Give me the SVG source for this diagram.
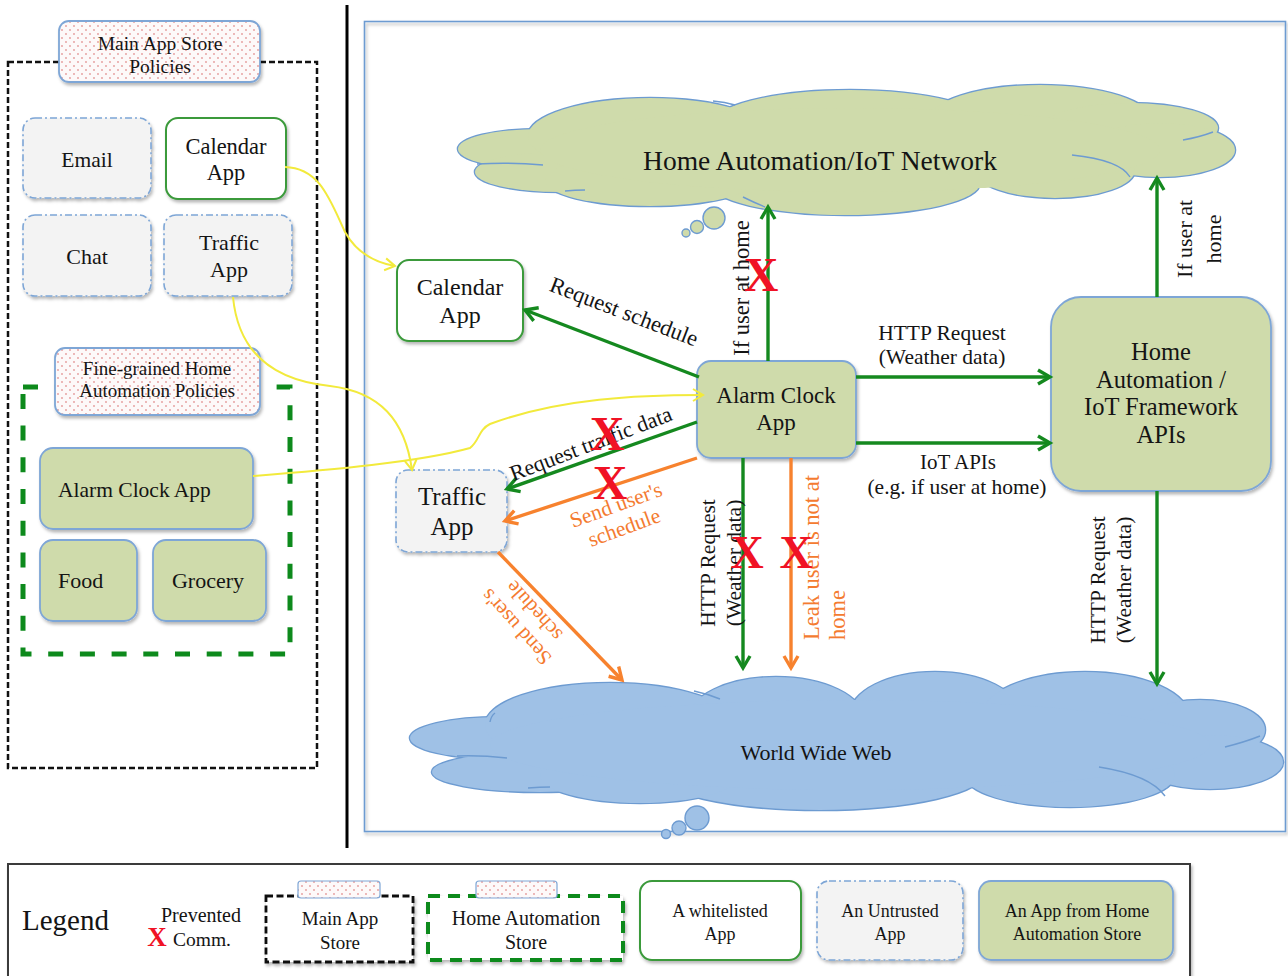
<svg xmlns="http://www.w3.org/2000/svg" width="1288" height="976" viewBox="0 0 1288 976">
<defs>
<style>
.t{font-family:"Liberation Serif","Times New Roman",serif;fill:#141414}
.c{text-anchor:middle}
.or{fill:#f47b30}
.x{font-family:"Liberation Serif","Times New Roman",serif;font-weight:bold;fill:#f01225;text-anchor:middle}
.wl{fill:#fff;stroke:#3b9a3b;stroke-width:2}
.ut{fill:#f3f3f3;stroke:#7ea6d6;stroke-width:1.6;stroke-dasharray:7 3 2 3}
.ha{fill:#cfdbab;stroke:#7ea6d6;stroke-width:1.8}
.pol{fill:url(#dots);stroke:#7ea6d6;stroke-width:1.8}
.ga{fill:none;stroke:#15891f;stroke-width:3.4;marker-end:url(#mg)}
.oa{fill:none;stroke:#f7822e;stroke-width:3.4;marker-end:url(#mo)}
.ya{fill:none;stroke:#f2ea3c;stroke-width:2;marker-end:url(#my)}
.inner{fill:none;stroke:#6d9bd1;stroke-width:1.4}
</style>
<pattern id="dots" width="8" height="8" patternUnits="userSpaceOnUse"><rect width="8" height="8" fill="#fdf9f9"/><circle cx="2" cy="2" r="0.9" fill="#e59a9a"/><circle cx="6" cy="6" r="0.9" fill="#e59a9a"/></pattern>
<filter id="sh" x="-10%" y="-10%" width="125%" height="135%"><feDropShadow dx="1.5" dy="2.5" stdDeviation="1.6" flood-color="#000" flood-opacity="0.28"/></filter>
<marker id="mg" viewBox="-16 -10 20 20" refX="0" refY="0" markerWidth="20" markerHeight="20" markerUnits="userSpaceOnUse" orient="auto"><path d="M-12,-7 L0,0 L-12,7" fill="none" stroke="#15891f" stroke-width="3.4"/></marker>
<marker id="mo" viewBox="-16 -10 20 20" refX="0" refY="0" markerWidth="20" markerHeight="20" markerUnits="userSpaceOnUse" orient="auto"><path d="M-12,-7 L0,0 L-12,7" fill="none" stroke="#f7822e" stroke-width="3.4"/></marker>
<marker id="my" viewBox="-14 -10 18 20" refX="0" refY="0" markerWidth="18" markerHeight="20" markerUnits="userSpaceOnUse" orient="auto"><path d="M-10,-6 L0,0 L-10,6" fill="none" stroke="#f2ea3c" stroke-width="2"/></marker>
<g id="ctop">
<ellipse cx="540" cy="149" rx="82" ry="20"/>
<ellipse cx="560" cy="172" rx="85" ry="20"/>
<ellipse cx="650" cy="136" rx="122" ry="38"/>
<ellipse cx="850" cy="126" rx="140" ry="36"/>
<ellipse cx="1040" cy="121" rx="112" ry="36"/>
<ellipse cx="1130" cy="128" rx="88" ry="25"/>
<ellipse cx="1160" cy="150" rx="75" ry="27"/>
<ellipse cx="1055" cy="170" rx="80" ry="28"/>
<ellipse cx="845" cy="183" rx="135" ry="32"/>
<ellipse cx="650" cy="180" rx="105" ry="26"/>
</g>
<g id="cbot">
<ellipse cx="500" cy="738" rx="90" ry="21"/>
<ellipse cx="540" cy="772" rx="108" ry="20"/>
<ellipse cx="610" cy="725" rx="125" ry="42"/>
<ellipse cx="776" cy="720" rx="88" ry="43"/>
<ellipse cx="935" cy="715" rx="85" ry="43"/>
<ellipse cx="1085" cy="718" rx="105" ry="46"/>
<ellipse cx="1200" cy="730" rx="65" ry="30"/>
<ellipse cx="1210" cy="762" rx="73" ry="27"/>
<ellipse cx="1070" cy="775" rx="105" ry="32"/>
<ellipse cx="820" cy="772" rx="165" ry="38"/>
<ellipse cx="640" cy="775" rx="100" ry="28"/>
</g>
</defs>

<rect width="1288" height="976" fill="#fff"/>

<!-- separators / frames -->
<g id="frames">
<line x1="347" y1="5" x2="347" y2="848" stroke="#000" stroke-width="3"/>
<rect x="364.5" y="21.5" width="921" height="810" fill="none" stroke="#6d9bd1" stroke-width="1.6" filter="url(#sh)"/>
<rect x="8" y="62" width="309" height="706" fill="none" stroke="#111" stroke-width="2.5" stroke-dasharray="6 3"/>
<rect x="23" y="387" width="267" height="267" fill="none" stroke="#0d8a1c" stroke-width="5" stroke-dasharray="15 16.7"/>
</g>

<!-- clouds -->
<g id="cloud-iot">
<use href="#ctop" fill="#cfdbab" stroke="#6d9bd1" stroke-width="2.6"/>
<use href="#ctop" fill="#cfdbab"/>
<ellipse cx="850" cy="150" rx="310" ry="42" fill="#cfdbab"/>
<path class="inner" d="M477,164 Q510,162 543,165 M1072,155 Q1120,160 1130,177 M1183,140 Q1200,137 1213,132 M713,101 Q725,102 735,105 M743,197 Q753,202 765,207 M565,191 Q575,190 585,190"/>
<circle cx="714" cy="218" r="11" fill="#cfdbab" stroke="#6d9bd1" stroke-width="1.4"/>
<circle cx="697" cy="227" r="6.5" fill="#cfdbab" stroke="#6d9bd1" stroke-width="1.4"/>
<circle cx="686" cy="233" r="4" fill="#cfdbab" stroke="#6d9bd1" stroke-width="1.4"/>
<text class="t c" x="820" y="170" font-size="27.5">Home Automation/IoT Network</text>
</g>

<g id="cloud-www">
<use href="#cbot" fill="#9fc1e6" stroke="#6d9bd1" stroke-width="2.6"/>
<use href="#cbot" fill="#9fc1e6"/>
<ellipse cx="850" cy="745" rx="360" ry="45" fill="#9fc1e6"/>
<path class="inner" d="M457,756 Q480,755 507,758 M528,788 Q540,787 550,787 M694,691 Q708,694 720,699 M1225,747 Q1245,742 1260,736 M1099,767 Q1150,775 1165,796 M490,722 Q491,716 495,713"/>
<circle cx="697" cy="818" r="12" fill="#9fc1e6" stroke="#6d9bd1" stroke-width="1.4"/>
<circle cx="679" cy="828" r="7" fill="#9fc1e6" stroke="#6d9bd1" stroke-width="1.4"/>
<circle cx="666" cy="834" r="4.5" fill="#9fc1e6" stroke="#6d9bd1" stroke-width="1.4"/>
<text class="t c" x="816" y="760" font-size="22">World Wide Web</text>
</g>

<!-- left panel nodes -->
<g id="main-store-policies">
<rect class="pol" x="59" y="21" width="201" height="61" rx="10" filter="url(#sh)"/>
<text class="t c" x="160" y="50" font-size="19.5">Main App Store</text>
<text class="t c" x="160" y="73" font-size="19.5">Policies</text>
</g>
<g id="email">
<rect class="ut" x="23" y="118" width="128" height="80" rx="12" filter="url(#sh)"/>
<text class="t c" x="87" y="167" font-size="21.5">Email</text>
</g>
<g id="calendar-left">
<rect class="wl" x="166" y="118" width="120" height="81" rx="12" filter="url(#sh)"/>
<text class="t c" x="226" y="154" font-size="22.5">Calendar</text>
<text class="t c" x="226" y="180" font-size="22.5">App</text>
</g>
<g id="chat">
<rect class="ut" x="23" y="215" width="128" height="81" rx="12" filter="url(#sh)"/>
<text class="t c" x="87" y="264" font-size="22">Chat</text>
</g>
<g id="traffic-left">
<rect class="ut" x="164" y="215" width="128" height="81" rx="12" filter="url(#sh)"/>
<text class="t c" x="229" y="250" font-size="22">Traffic</text>
<text class="t c" x="229" y="277" font-size="22">App</text>
</g>
<g id="ha-policies">
<rect class="pol" x="55" y="348" width="205" height="67" rx="10" filter="url(#sh)"/>
<text class="t c" x="157" y="375" font-size="19">Fine-grained Home</text>
<text class="t c" x="157" y="397" font-size="19">Automation Policies</text>
</g>
<g id="alarm-left">
<rect class="ha" x="40" y="448" width="213" height="81" rx="13" filter="url(#sh)"/>
<text class="t" x="58" y="497" font-size="21.5">Alarm Clock App</text>
</g>
<g id="food">
<rect class="ha" x="40" y="540" width="97" height="81" rx="13" filter="url(#sh)"/>
<text class="t" x="58" y="588" font-size="22">Food</text>
</g>
<g id="grocery">
<rect class="ha" x="153" y="540" width="113" height="81" rx="13" filter="url(#sh)"/>
<text class="t c" x="208" y="588" font-size="22">Grocery</text>
</g>

<!-- right side nodes -->
<g id="calendar-right">
<rect class="wl" x="397" y="260" width="126" height="81" rx="12" filter="url(#sh)"/>
<text class="t c" x="460" y="295" font-size="24">Calendar</text>
<text class="t c" x="460" y="323" font-size="24">App</text>
</g>
<g id="traffic-right">
<rect class="ut" x="396" y="470" width="111" height="82" rx="12" filter="url(#sh)"/>
<text class="t c" x="452" y="505" font-size="25">Traffic</text>
<text class="t c" x="452" y="535" font-size="25">App</text>
</g>
<g id="alarm-right">
<rect class="ha" x="697" y="361" width="159" height="97" rx="14" filter="url(#sh)"/>
<text class="t c" x="776" y="403" font-size="23">Alarm Clock</text>
<text class="t c" x="776" y="430" font-size="23">App</text>
</g>
<g id="ha-framework">
<rect class="ha" x="1051" y="297" width="220" height="194" rx="30" filter="url(#sh)"/>
<text class="t c" x="1161" y="360" font-size="24.5">Home</text>
<text class="t c" x="1161" y="388" font-size="24.5">Automation /</text>
<text class="t c" x="1161" y="415" font-size="24.5">IoT Framework</text>
<text class="t c" x="1161" y="443" font-size="24.5">APIs</text>
</g>

<!-- connectors -->
<g id="connectors">
<path class="ya" d="M285,167 C320,168 330,200 345,232 C355,250 372,262 395,266"/>
<path class="ya" d="M233,297 C238,350 270,380 330,386 C380,392 405,420 412,470"/>
<path class="ya" d="M253,476 C330,470 420,462 470,448 C480,440 478,430 490,424 C560,398 640,395 703,395"/>
<path class="ga" d="M699,377 L525,310"/>
<path class="ga" d="M697,422 L507,489"/>
<path class="oa" d="M697,458 L505,521"/>
<path class="oa" d="M498,552 L622,680"/>
<path class="ga" d="M768,361 L768,207"/>
<path class="ga" d="M856,377 L1050,377"/>
<path class="ga" d="M856,443 L1050,443"/>
<path class="ga" d="M743,458 L743,668"/>
<path class="oa" d="M791,458 L791,668"/>
<path class="ga" d="M1157,297 L1157,178"/>
<path class="ga" d="M1157,491 L1157,684"/>
</g>

<!-- connector labels -->
<g id="labels">
<text class="t c" transform="translate(624,312) rotate(21)" y="7" font-size="22.5">Request schedule</text>
<text class="t c" transform="translate(591,444) rotate(-21)" y="7" font-size="22">Request traffic data</text>
<text class="t c or" transform="translate(616,505) rotate(-20)" font-size="21.5"><tspan x="0" y="7">Send user's</tspan><tspan x="0" y="31">schedule</tspan></text>
<text class="t c or" transform="translate(516,627) rotate(228)" font-size="21"><tspan x="0" y="7">Send user's</tspan><tspan x="0" y="31">schedule</tspan></text>
<text class="t c" transform="translate(742,288) rotate(-90)" y="7" font-size="22.5">If user at home</text>
<text class="t c" transform="translate(708,563) rotate(-90)" font-size="21.5"><tspan x="0" y="7">HTTP Request</tspan><tspan x="0" y="33">(Weather data)</tspan></text>
<text class="t or" transform="translate(812,640) rotate(-90)" font-size="22.5"><tspan x="0" y="7">Leak user is not at</tspan><tspan x="0" y="33">home</tspan></text>
<text class="t c" transform="translate(1185,239) rotate(-90)" font-size="22"><tspan x="0" y="7">If user at</tspan><tspan x="0" y="36">home</tspan></text>
<text class="t c" transform="translate(1098,580) rotate(-90)" font-size="21.5"><tspan x="0" y="7">HTTP Request</tspan><tspan x="0" y="33">(Weather data)</tspan></text>
<text class="t c" x="942" y="340" font-size="21.5">HTTP Request</text>
<text class="t c" x="942" y="364" font-size="21.5">(Weather data)</text>
<text class="t c" x="958" y="469" font-size="21">IoT APIs</text>
<text class="t c" x="957" y="494" font-size="21.5">(e.g. if user at home)</text>
</g>

<!-- prevented marks -->
<g id="prevented">
<text class="x" x="761" y="291" font-size="48">X</text>
<text class="x" x="607" y="450" font-size="48">X</text>
<text class="x" x="610" y="499" font-size="48">X</text>
<text class="x" x="747" y="568" font-size="46">X</text>
<text class="x" x="796" y="568" font-size="46">X</text>
</g>

<!-- legend -->
<g id="legend">
<rect x="8" y="864" width="1182" height="130" fill="#fff" stroke="#3a3a3a" stroke-width="2" filter="url(#sh)"/>
<text class="t" x="22" y="930" font-size="29">Legend</text>
<text class="t c" x="201" y="922" font-size="20">Prevented</text>
<text class="x" x="157" y="946" font-size="27">X</text>
<text class="t" x="173" y="946" font-size="19.5">Comm.</text>
<g id="legend-main-store">
<rect x="266" y="896" width="147" height="66" fill="#fff" stroke="#111" stroke-width="2.8" stroke-dasharray="7 3.5" filter="url(#sh)"/>
<rect x="298" y="881" width="82" height="17" rx="3" fill="url(#dots)" stroke="#7ea6d6" stroke-width="1.2"/>
<text class="t c" x="340" y="925" font-size="19">Main App</text>
<text class="t c" x="340" y="949" font-size="19">Store</text>
</g>
<g id="legend-ha-store">
<rect x="428" y="896" width="195" height="64" fill="#fff" stroke="#0d8a1c" stroke-width="4" stroke-dasharray="12 8" filter="url(#sh)"/>
<rect x="476" y="881" width="81" height="17" rx="3" fill="url(#dots)" stroke="#7ea6d6" stroke-width="1.2"/>
<text class="t c" x="526" y="925" font-size="20">Home Automation</text>
<text class="t c" x="526" y="949" font-size="20">Store</text>
</g>
<g id="legend-whitelisted">
<rect class="wl" x="640" y="881" width="161" height="79" rx="12" filter="url(#sh)"/>
<text class="t c" x="720" y="917" font-size="18">A whitelisted</text>
<text class="t c" x="720" y="940" font-size="18">App</text>
</g>
<g id="legend-untrusted">
<rect class="ut" x="817" y="881" width="146" height="79" rx="12" filter="url(#sh)"/>
<text class="t c" x="890" y="917" font-size="18">An Untrusted</text>
<text class="t c" x="890" y="940" font-size="18">App</text>
</g>
<g id="legend-ha-app">
<rect class="ha" x="979" y="881" width="194" height="79" rx="12" filter="url(#sh)"/>
<text class="t c" x="1077" y="917" font-size="18">An App from Home</text>
<text class="t c" x="1077" y="940" font-size="18">Automation Store</text>
</g>
</g>
</svg>
